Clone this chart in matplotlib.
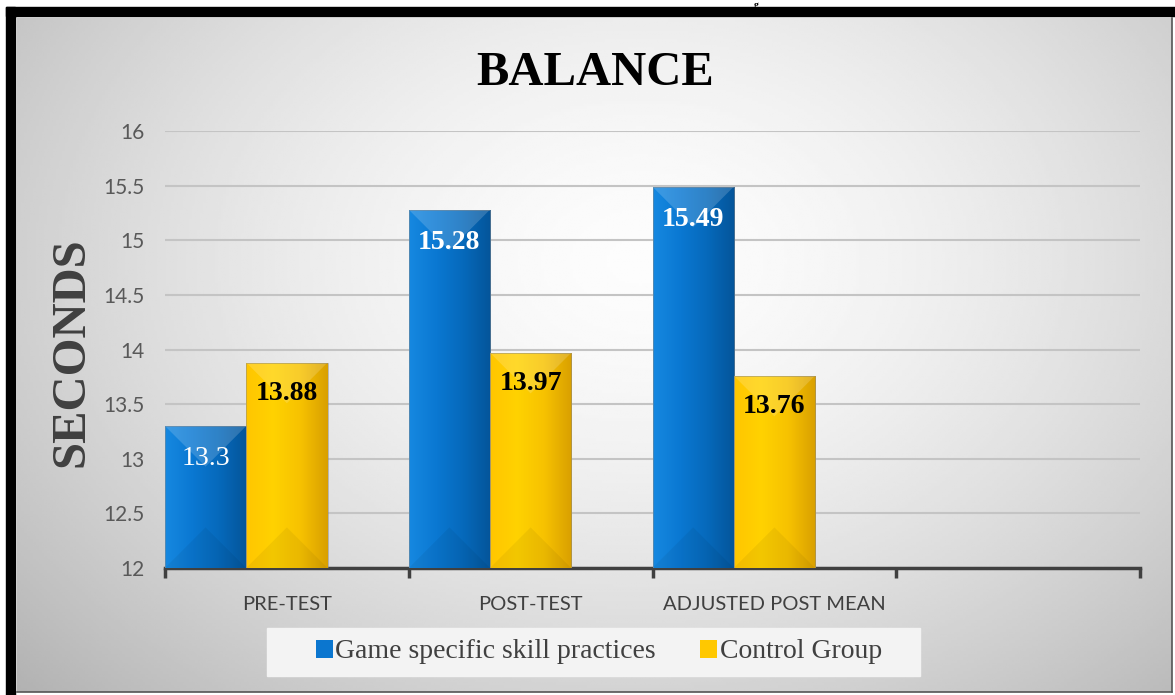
import numpy as np
import matplotlib
matplotlib.use('Agg')
import matplotlib.pyplot as plt
from matplotlib.patches import Rectangle, Polygon
from matplotlib.colors import LinearSegmentedColormap

# ── data ──
categories = ['PRE-TEST', 'POST-TEST', 'ADJUSTED POST MEAN', '']
game_skill = [13.3, 15.28, 15.49]
control = [13.88, 13.97, 13.76]
series_names = ['Game specific skill practices', 'Control Group']
y_ticks = [12, 12.5, 13, 13.5, 14, 14.5, 15, 15.5, 16]
y_tick_labels = ['12', '12.5', '13', '13.5', '14', '14.5', '15', '15.5', '16']

SERIF = ['Liberation Serif', 'DejaVu Serif']
SANS = ['Lato', 'DejaVu Sans']

W, H = 1175, 695
fig = plt.figure(figsize=(W / 100, H / 100), dpi=100, facecolor='white')


def fx(px):
    return px / W


def fy(py):
    return 1 - py / H


def frect(x0, y0, x1, y1, **kw):
    r = Rectangle((fx(x0), fy(y1)), fx(x1) - fx(x0), fy(y0) - fy(y1),
                  transform=fig.transFigure, **kw)
    fig.patches.append(r)
    return r


# ── frame ──
frect(6, 7, 1175, 16, color='black', zorder=0)
frect(6, 7, 15, 695, color='black', zorder=0)

# gradient background of chart area
bg = fig.add_axes([fx(17), fy(692), fx(1172) - fx(17), fy(18) - fy(692)], zorder=0.5)
gx, gy = np.meshgrid(np.linspace(0, 1, 400), np.linspace(0, 1, 240))
r = np.sqrt(((gx - 0.54) / 0.62) ** 2 + ((gy - 0.36) / 0.78) ** 2)
shade = 0.99 - 0.22 * np.clip(r, 0, 1.4) ** 1.6
bg.imshow(shade, cmap='gray', vmin=0, vmax=1, aspect='auto', extent=[0, 1, 1, 0])
bg.set_xticks([])
bg.set_yticks([])
for s in ['left', 'top']:
    bg.spines[s].set_visible(False)
for s in ['right', 'bottom']:
    bg.spines[s].set_color('#555555')
    bg.spines[s].set_linewidth(1.2)

# legend box
frect(267, 628, 920, 676, color='#f3f3f3', zorder=1)

# ── main axes ──
ax = fig.add_axes([fx(165), fy(568), fx(1140) - fx(165), fy(131) - fy(568)], zorder=2)
ax.set_facecolor('none')
ax.set_xlim(0, len(categories))
ax.set_ylim(y_ticks[0], y_ticks[-1])

bw = 1 / 3
x = np.arange(len(game_skill))
blue_bars = ax.bar(x + bw / 2, game_skill, bw, color='#0b76cf', zorder=3,
                   label=series_names[0])
gold_bars = ax.bar(x + 3 * bw / 2, control, bw, color='#ffc800', zorder=3,
                   label=series_names[1])

blue_cmap = LinearSegmentedColormap.from_list('b', ['#1688e0', '#0a78d2', '#0669bb', '#04559a'])
gold_cmap = LinearSegmentedColormap.from_list('g', ['#ffc600', '#ffd200', '#f7c200', '#d9a000'])


def bevel(patch, cmap):
    x0, w = patch.get_x(), patch.get_width()
    y1 = patch.get_y() + patch.get_height()
    y0 = max(patch.get_y(), ax.get_ylim()[0])
    sx = ax.bbox.width / np.diff(ax.get_xlim())[0]
    sy = ax.bbox.height / np.diff(ax.get_ylim())[0]
    th = w * sx / 2 / sy
    xc = x0 + w / 2
    im = ax.imshow(np.linspace(0, 1, 64)[None, :], cmap=cmap, aspect='auto',
                   extent=[x0, x0 + w, y0, y1], zorder=3.1, interpolation='bilinear')
    im.set_clip_path(patch)
    ax.add_patch(Polygon([(x0, y1), (x0 + w, y1), (xc, y1 - th)], closed=True,
                         facecolor='white', alpha=0.17, lw=0, zorder=3.2))
    ax.add_patch(Polygon([(x0, y0), (x0 + w, y0), (xc, y0 + th)], closed=True,
                         facecolor='black', alpha=0.05, lw=0, zorder=3.2))
    ax.add_patch(Rectangle((x0, y0), w, y1 - y0, fill=False, edgecolor='#8a8a8a',
                           lw=0.6, alpha=0.6, zorder=3.3))


for p in blue_bars:
    bevel(p, blue_cmap)
for p in gold_bars:
    bevel(p, gold_cmap)

ax.set_xlim(0, len(categories))
ax.set_ylim(y_ticks[0], y_ticks[-1])

# value labels
for p, v in zip(blue_bars, game_skill):
    ax.annotate(str(v), (p.get_x() + p.get_width() / 2, p.get_height()),
                xytext=(0, -33), textcoords='offset pixels', ha='center', va='center',
                fontsize=20, fontweight='normal' if v == 13.3 else 'bold',
                color='white', family=SERIF, zorder=5)
for p, v in zip(gold_bars, control):
    ax.annotate(str(v), (p.get_x() + p.get_width() / 2, p.get_height()),
                xytext=(0, -31), textcoords='offset pixels', ha='center', va='center',
                fontsize=20, fontweight='bold', color='black', family=SERIF, zorder=5)

# axes styling
ax.set_yticks(y_ticks, y_tick_labels)
ax.tick_params(axis='y', length=0, pad=15, labelsize=15, labelcolor='#595959')
for lab in ax.get_yticklabels():
    lab.set_family(SANS)
ax.grid(axis='y', color='#c4c4c4', lw=1.5)
ax.set_axisbelow(True)

ax.set_xticks(np.arange(len(categories) + 1))
ax.set_xticklabels([])
ax.set_xticks(np.arange(len(categories)) + 0.5, minor=True)
ax.set_xticklabels(categories, minor=True)
ax.tick_params(axis='x', which='major', length=7, width=2.5, color='#404040')
ax.tick_params(axis='x', which='minor', length=0, pad=20, labelsize=14.5, labelcolor='#404040')
for lab in ax.get_xticklabels(minor=True):
    lab.set_family(SANS)

for s in ['left', 'right', 'top']:
    ax.spines[s].set_visible(False)
ax.spines['bottom'].set_color('#404040')
ax.spines['bottom'].set_linewidth(2.5)

# titles
fig.text(fx(595), fy(73), 'BALANCE', ha='center', va='center', fontsize=35,
         fontweight='bold', family=SERIF, color='black', zorder=4)
fig.text(fx(71), fy(352), 'SECONDS', ha='center', va='center', rotation=90,
         fontsize=35, fontweight='bold', family=SERIF, color='#404040', zorder=4)
fig.text(fx(756), fy(0.5), 'g', ha='center', va='top', fontsize=7,
         fontweight='bold', family=SERIF, color='black', zorder=4)

fig.legend(handles=[blue_bars, gold_bars], labels=series_names, loc='center',
           bbox_to_anchor=(fx(599), fy(652)), ncol=2, frameon=False,
           prop={'family': SERIF, 'size': 20}, labelcolor='#404040',
           handlelength=0.6, handleheight=0.6, handletextpad=0.1, columnspacing=1.6)

fig.savefig('out.png', dpi=100, facecolor='white')
